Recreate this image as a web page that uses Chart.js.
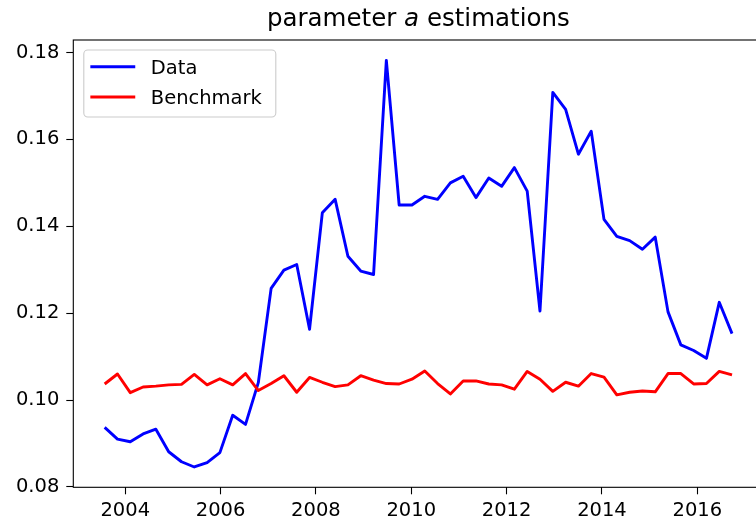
<!DOCTYPE html>
<html>
<head>
<meta charset="utf-8">
<script src="https://cdn.jsdelivr.net/npm/chart.js@4/dist/chart.umd.min.js"></script>
<style>
  html, body { margin: 0; padding: 0; background: #fff; overflow: hidden; }
  #wrap { width: 780px; height: 522px; }
</style>
</head>
<body>
<div id="wrap"><canvas id="paramChart" width="780" height="522"></canvas></div>
<script>
// estimation dates (decimal years)
var dates = [
  2003.568, 2003.837, 2004.105, 2004.374, 2004.642, 2004.911, 2005.180, 2005.448, 2005.717, 2005.985,
  2006.254, 2006.523, 2006.791, 2007.060, 2007.328, 2007.597, 2007.866, 2008.134, 2008.403, 2008.671,
  2008.940, 2009.209, 2009.477, 2009.746, 2010.014, 2010.283, 2010.552, 2010.820, 2011.089, 2011.357,
  2011.626, 2011.895, 2012.163, 2012.432, 2012.700, 2012.969, 2013.238, 2013.506, 2013.775, 2014.043,
  2014.312, 2014.581, 2014.849, 2015.118, 2015.386, 2015.655, 2015.924, 2016.192, 2016.461, 2016.729
];

var dataEstimates = [
  0.0937, 0.0910, 0.0904, 0.0922, 0.0933, 0.0881, 0.0858, 0.0846, 0.0856, 0.0879,
  0.0965, 0.0944, 0.1040, 0.1257, 0.1299, 0.1312, 0.1163, 0.1431, 0.1462, 0.1331,
  0.1297, 0.1289, 0.1782, 0.1449, 0.1449, 0.1469, 0.1462, 0.1500, 0.1515, 0.1466,
  0.1511, 0.1492, 0.1535, 0.1481, 0.1205, 0.1708, 0.1669, 0.1566, 0.1619, 0.1416,
  0.1377, 0.1367, 0.1347, 0.1375, 0.1203, 0.1127, 0.1114, 0.1096, 0.1225, 0.1153
];

var benchmarkEstimates = [
  0.1037, 0.1060, 0.1017, 0.1030, 0.1032, 0.1035, 0.1036, 0.1059, 0.1035, 0.1049,
  0.1035, 0.1061, 0.1022, 0.1038, 0.1056, 0.1018, 0.1052, 0.1041, 0.1031, 0.1035,
  0.1056, 0.1046, 0.1038, 0.1037, 0.1048, 0.1067, 0.1038, 0.1014, 0.1044, 0.1044,
  0.1037, 0.1035, 0.1025, 0.1066, 0.1048, 0.1020, 0.1041, 0.1032, 0.1061, 0.1053,
  0.1012, 0.1018, 0.1021, 0.1019, 0.1061, 0.1061, 0.1037, 0.1038, 0.1066, 0.1058
];

var xTicks = [2004, 2006, 2008, 2010, 2012, 2014, 2016];
var yTicks = [0.08, 0.10, 0.12, 0.14, 0.16, 0.18];

var seriesNames = ['Data', 'Benchmark'];
var seriesColors = ['#0000ff', '#ff0000'];

var FONT = 'DejaVu Sans';

function toPoints(xs, ys) {
  return xs.map(function (x, i) { return { x: x, y: ys[i] }; });
}

// axis limits with a 5% margin around the data, like pyplot's autoscale
function padded(lo, hi) {
  var m = (hi - lo) * 0.05;
  return [lo - m, hi + m];
}
var xLim = padded(Math.min.apply(null, dates), Math.max.apply(null, dates));
var allVals = dataEstimates.concat(benchmarkEstimates);
var yLim = padded(Math.min.apply(null, allVals), Math.max.apply(null, allVals));

// box around the axes
var frame = {
  id: 'frame',
  afterDatasetsDraw: function (chart) {
    var a = chart.chartArea, ctx = chart.ctx;
    ctx.save();
    ctx.strokeStyle = '#000';
    ctx.lineWidth = 1.1;
    ctx.strokeRect(a.left, a.top, a.right - a.left, a.bottom - a.top);
    ctx.restore();
  }
};

// title with an italic "a"
var plotTitle = {
  id: 'plotTitle',
  afterDraw: function (chart) {
    var ctx = chart.ctx, a = chart.chartArea;
    var parts = [['parameter ', ''], ['a', 'italic '], [' estimations', '']];
    var size = 24.5;
    ctx.save();
    ctx.fillStyle = '#000';
    ctx.textBaseline = 'alphabetic';
    var total = 0;
    parts.forEach(function (p) {
      ctx.font = p[1] + size + 'px "' + FONT + '"';
      total += ctx.measureText(p[0]).width;
    });
    var x = (a.left + a.right) / 2 - total / 2;
    parts.forEach(function (p) {
      ctx.font = p[1] + size + 'px "' + FONT + '"';
      ctx.fillText(p[0], x, a.top - 14);
      x += ctx.measureText(p[0]).width;
    });
    ctx.restore();
  }
};

// legend box in the upper left corner
var boxLegend = {
  id: 'boxLegend',
  afterDraw: function (chart) {
    var ctx = chart.ctx, a = chart.chartArea;
    var bx = a.left + 10.5, by = a.top + 10, bw = 192, bh = 67, r = 4;
    ctx.save();
    ctx.beginPath();
    ctx.roundRect(bx, by, bw, bh, r);
    ctx.fillStyle = 'rgba(255,255,255,0.8)';
    ctx.fill();
    ctx.strokeStyle = '#cccccc';
    ctx.lineWidth = 1.1;
    ctx.stroke();
    ctx.font = '19.5px "' + FONT + '"';
    ctx.textBaseline = 'alphabetic';
    chart.data.datasets.forEach(function (ds, i) {
      var y = by + 16.7 + i * 30.3;
      ctx.beginPath();
      ctx.moveTo(bx + 8, y);
      ctx.lineTo(bx + 50, y);
      ctx.strokeStyle = ds.borderColor;
      ctx.lineWidth = 2.9;
      ctx.lineCap = 'square';
      ctx.stroke();
      ctx.fillStyle = '#000';
      ctx.fillText(ds.label, bx + 67, y + 7.2);
    });
    ctx.restore();
  }
};

var ctx1 = document.getElementById('paramChart').getContext('2d');
var paramChart = new Chart(ctx1, {
  type: 'line',
  data: {
    datasets: [{
      label: seriesNames[0],
      data: toPoints(dates, dataEstimates),
      borderColor: seriesColors[0],
      borderWidth: 2.9,
      borderJoinStyle: 'round',
      pointRadius: 0,
      tension: 0,
      fill: false,
      order: 1
    }, {
      label: seriesNames[1],
      data: toPoints(dates, benchmarkEstimates),
      borderColor: seriesColors[1],
      borderWidth: 2.9,
      borderJoinStyle: 'round',
      pointRadius: 0,
      tension: 0,
      fill: false,
      order: 0
    }]
  },
  options: {
    responsive: false,
    animation: false,
    devicePixelRatio: 1,
    layout: { padding: { left: 0, top: 40, right: 16.6, bottom: 0 } },
    plugins: {
      legend: { display: false },
      tooltip: { enabled: false },
      title: { display: false }
    },
    scales: {
      x: {
        type: 'linear',
        min: xLim[0],
        max: xLim[1],
        afterBuildTicks: function (scale) {
          scale.ticks = xTicks.map(function (v) { return { value: v }; });
        },
        afterFit: function (scale) { scale.height = 34.7; },
        border: { display: false },
        grid: { drawOnChartArea: false, tickLength: 7, tickWidth: 1.1, tickColor: '#000' },
        ticks: {
          autoSkip: false,
          maxRotation: 0,
          padding: 5,
          color: '#000',
          font: { family: FONT, size: 19.5 },
          callback: function (v) { return String(v); }
        }
      },
      y: {
        min: yLim[0],
        max: yLim[1],
        afterBuildTicks: function (scale) {
          scale.ticks = yTicks.map(function (v) { return { value: v }; });
        },
        afterFit: function (scale) { scale.width = 73.3; },
        border: { display: false },
        grid: { drawOnChartArea: false, tickLength: 7, tickWidth: 1.1, tickColor: '#000' },
        ticks: {
          padding: 7,
          color: '#000',
          font: { family: FONT, size: 19.5 },
          callback: function (v) { return v.toFixed(2); }
        }
      }
    }
  },
  plugins: [frame, boxLegend, plotTitle]
});
</script>
</body>
</html>
